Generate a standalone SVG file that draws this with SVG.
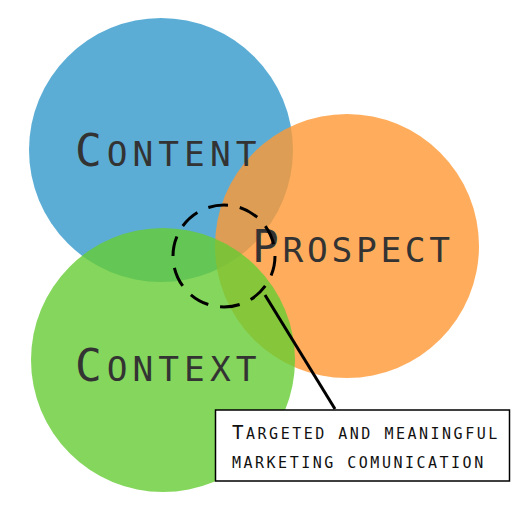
<svg xmlns="http://www.w3.org/2000/svg" width="529" height="519" viewBox="0 0 529 519">
<style>
.c{opacity:0.8}
.lbl{font-family:"DejaVu Sans Mono",monospace;fill:#333;letter-spacing:5px}
.big{font-size:44.5px}
.sm{font-size:34.5px}
.note{font-family:"DejaVu Sans Mono",monospace;fill:#111;letter-spacing:2.5px}
.nb{font-size:19.2px}
.ns{font-size:15px}
</style>
<rect width="529" height="519" fill="#fff"/>
<g id="content">
<circle class="c" cx="161" cy="150" r="132" fill="#3399CC"/>
</g>
<g id="prospect">
<circle class="c" cx="347" cy="246" r="132" fill="#FF9933"/>
</g>
<g id="context">
<circle class="c" cx="163" cy="360" r="132" fill="#66CC33"/>
</g>
<g id="labels">
<text class="lbl" x="75" y="166"><tspan class="big">C</tspan><tspan class="sm">ONTENT</tspan></text>
<text class="lbl" x="252" y="262" style="letter-spacing:3.7px"><tspan class="big">P</tspan><tspan class="sm">ROSPECT</tspan></text>
<text class="lbl" x="75" y="381"><tspan class="big">C</tspan><tspan class="sm">ONTEXT</tspan></text>
</g>
<g id="connectors">
<circle cx="224" cy="256" r="51" fill="none" stroke="#000" stroke-width="3" stroke-dasharray="20,12"/>
<line x1="265" y1="295" x2="335" y2="409" stroke="#000" stroke-width="3"/>
</g>
<g id="note">
<rect x="215.5" y="410" width="294" height="71" fill="#fff" stroke="#000" stroke-width="1.5"/>
<text class="note" x="232" y="439"><tspan class="nb">T</tspan><tspan class="ns">ARGETED AND MEANINGFUL</tspan></text>
<text class="note ns" x="232" y="468">MARKETING COMUNICATION</text>
</g>
</svg>
